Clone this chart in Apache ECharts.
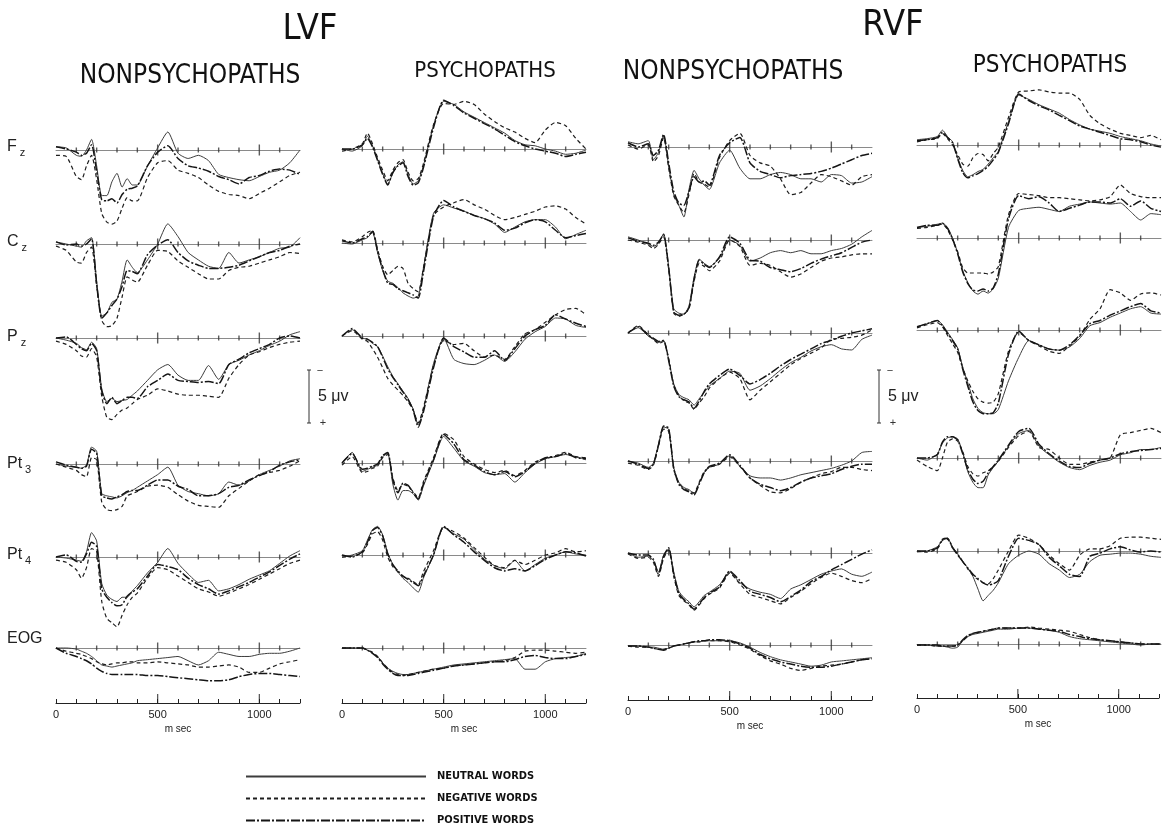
<!DOCTYPE html>
<html><head><meta charset="utf-8">
<script src="https://cdn.jsdelivr.net/npm/echarts@6/dist/echarts.min.js"></script>
<style>html,body{margin:0;background:#fff}#c{width:1162px;height:829px}</style>
</head><body><div id="c"></div><script>
// time points (ms) at which values were read
const T = [0,50,100,125,150,175,200,225,250,275,300,325,350,375,400,450,500,550,600,650,700,750,800,850,900,950,1000,1050,1100,1150,1200];
const BASE_TICKS = [100,200,300,400,600,700,800,900,1100];
const MAJOR_TICKS = [500,1000];
const AXIS_TICK_LABELS = [0,500,1000];
const COLS = ['LN','LP','RN','RP'];
const COL_TITLES = ['NONPSYCHOPATHS','PSYCHOPATHS','NONPSYCHOPATHS','PSYCHOPATHS'];
const FIELD_TITLES = ['LVF','RVF'];
const ROWS = ['Fz','Cz','Pz','Pt3','Pt4','EOG'];
const ROW_MAIN = ['F','C','P','Pt','Pt','EOG'];
const ROW_SUB = ['z','z','z','3','4',''];
const CONDS = ['Neu','Neg','Pos'];
const CONDITION_NAMES = ['NEUTRAL WORDS','NEGATIVE WORDS','POSITIVE WORDS'];
const SCALE_UV = 5;

// values in microvolts (negative plotted upward)
const LN_Fz_Neu = [-0.3,-0.2,0.5,0.6,0.0,-1.0,1.5,4.3,4.3,3.0,2.2,3.5,2.7,3.3,3.3,1.5,-0.2,-1.7,0.3,0.8,0.5,1.0,2.3,2.6,2.8,2.9,2.5,2.1,1.9,1.2,0.0];
const LN_Fz_Neg = [0.5,0.6,2.5,2.8,1.5,0.5,2.8,6.0,6.8,7.0,6.7,5.5,4.5,4.8,4.8,2.6,1.2,1.0,1.9,2.2,2.6,3.3,3.9,4.2,4.3,4.6,4.1,3.6,3.0,2.4,2.1];
const LN_Fz_Pos = [-0.3,-0.1,0.2,0.5,0.3,-0.5,2.0,4.7,4.8,4.6,5.0,4.2,3.7,3.6,3.4,1.5,0.2,-0.4,0.8,1.5,1.7,2.0,2.5,2.8,3.2,2.6,2.4,2.0,1.8,1.9,2.3];
const LN_Cz_Neu = [-0.2,0.0,0.2,0.3,-0.3,-0.6,3.5,6.8,6.5,5.5,5.2,3.5,1.5,2.2,2.7,1.5,0.0,-1.9,-0.7,0.8,1.5,2.1,2.3,0.8,1.8,1.5,1.2,0.8,0.4,0.3,-0.6];
const LN_Cz_Neg = [0.2,0.6,1.7,1.8,0.8,0.3,4.0,7.2,7.8,7.7,7.0,5.0,3.1,3.4,3.6,2.0,0.6,0.7,1.6,2.2,2.8,3.3,3.3,2.5,2.2,2.1,1.8,1.5,1.2,0.8,0.9];
const LN_Cz_Pos = [-0.2,0.1,0.0,0.2,0.0,-0.5,3.8,7.0,6.5,5.8,5.2,4.0,2.5,2.6,2.8,1.0,0.1,-0.4,0.8,1.6,2.0,2.3,2.3,2.2,2.0,1.6,1.2,0.8,0.6,0.2,0.0];
const LN_Pz_Neu = [0.0,0.2,0.5,0.9,1.1,0.4,1.0,4.8,6.0,5.7,6.0,5.9,5.8,5.4,5.0,4.0,3.0,2.5,3.5,4.0,4.0,2.6,3.9,2.5,2.1,1.6,1.2,0.7,0.3,-0.3,-0.6];
const LN_Pz_Neg = [0.3,0.6,1.2,1.7,1.8,1.0,1.8,5.5,7.5,7.7,7.2,6.8,6.6,6.2,5.8,5.4,4.8,5.0,5.3,5.4,5.4,5.5,5.6,3.8,2.5,1.6,1.3,0.9,0.6,0.4,0.3];
const LN_Pz_Pos = [0.0,-0.1,0.6,1.0,1.2,0.5,1.2,5.0,6.2,5.6,6.2,5.9,5.6,5.6,5.7,4.6,4.0,3.4,4.0,4.1,4.2,4.1,4.3,2.5,2.0,1.4,1.0,0.6,0.0,-0.2,0.0];
const LN_Pt3_Neu = [0.0,0.2,0.3,0.4,0.1,-1.6,-1.2,2.8,3.0,3.1,3.2,3.0,2.7,2.5,2.2,1.6,1.0,0.3,2.0,2.6,2.8,3.0,2.8,1.7,2.0,1.6,1.0,0.6,0.2,-0.3,-0.5];
const LN_Pt3_Neg = [0.0,0.3,0.6,1.0,1.2,-0.6,-0.4,3.6,4.3,4.4,4.3,4.0,3.0,2.8,2.6,2.1,2.0,2.2,2.9,3.5,3.9,4.0,4.1,3.0,2.3,1.6,1.0,0.8,0.6,0.2,-0.3];
const LN_Pt3_Pos = [-0.2,0.1,0.3,0.4,0.2,-1.4,-1.0,3.0,3.2,3.3,3.1,2.9,2.6,2.5,2.5,2.0,1.5,1.5,2.1,2.4,3.0,3.0,2.8,2.2,2.0,1.5,1.1,0.7,0.1,-0.2,-0.4];
const LN_Pt4_Neu = [0.0,0.1,0.3,0.4,-0.5,-2.3,-1.5,2.5,3.6,4.0,4.2,3.8,3.8,3.2,2.7,1.5,0.5,-0.8,0.6,1.6,2.4,2.2,3.2,3.0,2.6,2.1,1.7,1.3,0.6,-0.1,-0.6];
const LN_Pt4_Neg = [0.3,0.5,1.2,2.0,1.0,-0.8,-0.5,4.2,5.8,6.2,6.6,5.5,4.5,3.8,3.4,2.0,1.0,1.2,1.8,2.4,3.0,3.3,3.7,3.4,3.0,2.6,2.1,1.6,1.1,0.6,0.3];
const LN_Pt4_Pos = [0.0,-0.2,0.4,0.5,-0.3,-1.4,-1.0,3.0,3.8,4.3,4.6,4.5,3.7,3.3,3.0,1.8,0.7,0.9,1.2,2.0,2.6,3.0,3.5,3.2,2.8,2.4,1.9,1.4,0.8,0.2,-0.3];
const LN_EOG_Neu = [0.0,0.0,0.1,0.3,0.5,0.8,1.2,1.6,1.7,1.8,1.7,1.6,1.5,1.4,1.2,1.1,1.0,0.9,0.8,1.2,1.6,1.2,0.4,0.6,0.8,0.8,0.6,0.5,0.5,0.3,0.0];
const LN_EOG_Neg = [0.0,0.3,0.5,0.6,0.8,1.0,1.3,1.5,1.6,1.5,1.4,1.4,1.3,1.3,1.4,1.4,1.3,1.4,1.5,1.6,1.8,1.8,1.7,1.6,1.8,2.3,2.3,1.9,1.5,1.3,1.1];
const LN_EOG_Pos = [0.0,0.5,0.8,1.0,1.2,1.5,1.9,2.2,2.4,2.5,2.5,2.5,2.5,2.5,2.5,2.6,2.6,2.7,2.8,2.9,3.0,3.1,3.1,3.0,2.7,2.5,2.4,2.4,2.5,2.6,2.7];

const LP_Fz_Neu = [0.0,0.2,-0.3,-1.2,-0.3,1.0,2.3,3.3,2.3,1.5,1.2,2.4,3.3,3.0,1.6,-2.2,-4.5,-4.2,-3.5,-3.0,-2.5,-2.0,-1.5,-0.8,-0.4,-0.3,0.0,0.2,0.5,0.4,0.1];
const LP_Fz_Neg = [0.2,0.0,-0.5,-1.5,-0.5,0.8,2.0,3.0,2.0,1.3,1.0,2.2,3.0,2.8,1.4,-2.3,-4.3,-4.2,-4.5,-4.2,-3.3,-2.6,-2.0,-1.6,-1.0,-0.6,-1.8,-2.5,-2.2,-1.0,0.0];
const LP_Fz_Pos = [0.0,0.0,-0.4,-1.0,-0.2,1.1,2.4,3.4,2.2,1.6,1.3,2.6,3.4,3.2,1.8,-2.0,-4.6,-4.1,-3.4,-2.9,-2.4,-1.9,-1.3,-0.7,-0.3,0.0,0.2,0.4,0.7,0.5,0.3];
const LP_Cz_Neu = [0.0,0.1,-0.3,-0.5,-1.0,0.9,2.6,3.6,3.8,4.2,4.7,5.0,5.2,5.0,2.4,-2.8,-3.6,-3.3,-3.0,-2.6,-2.3,-1.8,-1.0,-1.5,-2.0,-2.2,-2.2,-1.5,-0.4,-0.8,-1.2];
const LP_Cz_Neg = [-0.3,-0.1,-0.6,-1.0,-1.2,0.6,2.2,3.0,2.6,2.2,2.4,3.8,4.3,4.6,2.4,-2.6,-3.4,-3.8,-4.1,-3.6,-3.2,-2.6,-2.2,-2.4,-2.7,-3.0,-3.4,-3.5,-3.2,-2.4,-1.8];
const LP_Cz_Pos = [-0.2,0.0,-0.4,-0.6,-1.1,0.8,2.5,3.8,3.9,4.3,4.5,4.7,4.9,5.2,2.8,-2.5,-4.0,-3.4,-3.0,-2.6,-2.3,-1.9,-1.2,-1.4,-1.9,-2.2,-2.0,-1.2,-0.5,-0.7,-0.9];
const LP_Pz_Neu = [0.0,-0.6,0.2,0.3,0.7,1.0,1.9,2.9,3.8,4.5,5.2,5.9,6.9,8.4,7.0,2.6,0.2,2.2,2.6,2.7,2.3,1.8,2.4,1.5,0.3,-0.4,-0.9,-1.7,-1.6,-1.0,-0.8];
const LP_Pz_Neg = [0.0,-0.5,0.3,0.5,1.2,2.0,3.0,4.0,4.6,5.1,5.6,6.2,7.0,8.2,6.8,2.8,0.4,0.8,0.7,1.4,2.0,1.8,2.2,1.0,-0.2,-0.6,-1.3,-2.0,-2.5,-2.6,-2.0];
const LP_Pz_Pos = [0.0,-0.7,0.2,0.3,0.6,1.0,2.0,3.1,3.9,4.6,5.3,6.0,7.0,8.6,7.2,3.0,0.2,1.0,1.5,2.0,2.0,1.4,2.3,1.2,0.0,-0.6,-1.0,-2.0,-1.6,-1.2,-0.9];
const LP_Pt3_Neu = [0.0,-1.0,0.8,0.6,0.4,0.2,-0.6,-0.9,2.0,3.5,2.6,2.6,2.9,3.5,2.2,-0.2,-2.5,-1.4,-0.2,0.3,0.9,1.1,1.0,1.8,0.9,0.1,-0.4,-0.6,-0.8,-0.6,-0.3];
const LP_Pt3_Neg = [0.2,-0.6,0.9,0.8,0.5,0.3,-0.5,-0.8,1.4,2.6,2.0,2.2,2.7,3.3,1.8,-0.5,-2.8,-2.2,-0.6,0.1,0.6,0.9,0.7,1.2,0.7,-0.1,-0.4,-0.7,-1.0,-0.6,-0.5];
const LP_Pt3_Pos = [0.0,-0.9,0.6,0.5,0.3,0.1,-0.7,-1.0,1.6,2.8,1.9,2.1,2.8,3.4,2.0,-0.3,-2.7,-1.8,-0.3,0.2,0.8,1.1,0.8,1.3,0.8,0.0,-0.5,-0.6,-0.9,-0.5,-0.4];
const LP_Pt4_Neu = [0.2,0.0,-0.4,-1.4,-2.4,-2.7,-1.9,-0.2,0.9,1.6,2.2,2.6,3.1,3.5,2.2,0.0,-2.6,-2.0,-1.5,-0.5,0.4,1.0,1.3,0.5,1.5,0.9,0.3,0.0,-0.3,-0.1,0.0];
const LP_Pt4_Neg = [0.2,0.1,-0.2,-1.0,-2.0,-2.2,-1.4,0.2,1.1,1.6,2.0,2.2,2.5,2.8,1.6,-0.4,-2.6,-2.2,-1.6,-0.7,0.2,1.0,1.2,0.5,0.9,0.5,0.0,-0.2,-0.6,-0.3,-0.4];
const LP_Pt4_Pos = [0.0,0.2,-0.3,-1.2,-2.3,-2.6,-1.8,-0.1,0.9,1.5,2.0,2.3,2.6,2.9,2.0,0.0,-2.7,-1.9,-1.2,-0.3,0.5,1.2,1.5,1.3,1.5,1.0,0.4,0.0,-0.3,-0.2,0.1];
const LP_EOG_Neu = [0.0,0.0,0.0,0.2,0.5,0.8,1.4,1.9,2.2,2.4,2.5,2.5,2.4,2.3,2.2,2.0,1.8,1.6,1.5,1.4,1.3,1.2,1.1,1.0,2.0,2.0,1.3,1.0,0.9,0.8,0.5];
const LP_EOG_Neg = [0.0,0.0,0.0,0.2,0.4,0.8,1.4,1.9,2.3,2.5,2.6,2.5,2.4,2.3,2.2,2.0,1.9,1.7,1.6,1.5,1.4,1.3,1.2,0.9,0.3,0.2,0.2,0.3,0.4,0.5,0.4];
const LP_EOG_Pos = [0.0,0.0,0.0,0.2,0.5,0.9,1.5,2.0,2.4,2.6,2.6,2.6,2.5,2.4,2.3,2.1,1.9,1.7,1.6,1.5,1.4,1.3,1.3,1.1,0.8,0.7,0.9,1.0,1.0,0.8,0.6];

const RN_Fz_Neu = [-0.5,-0.3,-0.6,1.2,0.5,-1.1,1.8,4.5,5.5,6.6,4.0,2.2,3.0,3.6,4.0,1.5,0.3,2.0,3.0,3.0,2.6,2.4,2.6,3.0,3.0,3.3,2.6,2.7,3.4,3.3,2.8];
const RN_Fz_Neg = [-0.2,0.2,-0.2,1.4,0.8,-0.9,2.0,4.6,5.5,6.2,4.5,2.5,3.3,3.5,3.8,1.0,-0.6,-1.3,0.8,1.5,1.8,3.0,4.5,4.3,3.4,2.6,2.8,3.2,3.6,2.8,2.6];
const RN_Fz_Pos = [-0.4,0.0,-0.3,0.8,0.3,-1.2,1.5,4.2,5.3,5.5,4.2,2.8,3.3,3.2,3.6,0.8,-0.4,-0.9,1.5,2.3,2.6,2.9,2.7,2.6,2.5,2.3,2.0,1.6,1.2,0.8,0.6];
const RN_Cz_Neu = [-0.3,0.0,0.4,0.6,0.3,-0.6,2.5,6.5,6.9,7.0,6.2,3.5,1.8,2.2,2.5,1.7,0.0,0.5,2.0,1.7,1.2,1.0,1.2,1.0,1.3,1.3,1.0,0.8,0.4,-0.3,-0.9];
const RN_Cz_Neg = [0.0,0.2,0.5,0.8,0.4,-0.3,2.8,6.9,7.2,7.0,6.5,3.9,2.2,2.5,2.9,2.0,0.0,0.6,2.4,2.2,2.4,3.0,3.5,3.2,2.6,2.0,1.7,1.6,1.4,1.3,1.3];
const RN_Cz_Pos = [-0.2,0.1,0.3,0.5,0.2,-0.5,2.6,6.8,7.1,7.0,6.4,3.7,1.9,2.3,2.6,1.6,-0.3,0.3,1.9,2.0,2.6,2.8,3.0,2.7,2.2,1.8,1.5,1.2,0.7,0.2,0.0];
const RN_Pz_Neu = [0.0,-0.5,0.3,0.6,0.9,0.7,2.5,4.8,5.8,6.1,6.3,6.8,6.2,5.6,5.0,4.3,3.6,3.8,5.4,5.0,4.3,3.5,2.8,2.3,1.7,1.3,1.1,1.5,1.6,0.6,0.2];
const RN_Pz_Neg = [0.0,-0.7,0.2,0.6,1.0,0.8,2.4,4.9,5.9,6.4,6.6,7.2,6.6,6.0,5.2,4.3,3.7,4.3,6.3,5.4,4.6,3.8,3.0,2.4,1.9,1.4,0.6,0.5,0.4,0.2,-0.3];
const RN_Pz_Pos = [0.0,-0.6,0.2,0.5,0.8,0.7,2.6,5.0,6.0,6.3,6.5,7.1,6.4,5.5,4.8,4.0,3.4,4.0,4.8,4.4,3.8,3.1,2.5,2.0,1.5,1.0,0.7,0.3,0.0,-0.2,-0.4];
const RN_Pt3_Neu = [0.0,0.2,0.6,0.2,-1.6,-3.2,-3.0,0.6,2.0,2.5,2.7,3.1,2.1,1.1,0.6,0.3,-0.5,0.5,1.4,1.6,1.6,1.8,1.6,1.3,1.1,0.9,0.7,0.4,0.0,-0.8,-0.9];
const RN_Pt3_Neg = [0.2,0.4,0.8,0.4,-1.4,-3.0,-2.8,0.8,2.1,2.6,2.8,3.0,2.0,1.0,0.6,0.3,-0.4,0.5,1.6,2.3,2.9,3.0,2.6,2.0,1.6,1.2,1.0,0.6,0.6,0.8,0.9];
const RN_Pt3_Pos = [0.0,0.3,0.7,0.3,-1.5,-3.3,-3.1,0.7,2.2,2.7,2.9,3.2,2.2,1.1,0.5,0.2,-0.6,0.4,1.6,2.2,2.5,2.8,2.5,2.0,1.6,1.4,1.2,0.8,0.5,0.3,0.3];
const RN_Pt4_Neu = [0.0,0.4,0.3,0.7,1.8,0.2,-0.4,1.8,3.6,4.2,4.6,5.1,4.6,4.0,3.7,3.0,1.8,2.8,3.4,3.7,3.9,4.3,3.4,3.0,2.5,2.0,1.7,1.5,2.0,2.2,1.8];
const RN_Pt4_Neg = [0.1,0.5,0.4,0.9,2.2,0.5,-0.3,2.2,4.0,4.5,4.9,5.4,4.9,4.3,3.9,3.3,1.9,2.9,3.9,4.2,4.5,4.8,4.2,3.6,2.9,2.3,1.9,2.2,2.6,2.8,2.4];
const RN_Pt4_Pos = [0.0,0.2,0.2,0.6,2.0,0.3,-0.5,2.0,3.8,4.4,4.8,5.3,4.8,4.2,3.8,3.2,1.7,2.6,3.6,3.9,4.2,4.6,4.1,3.5,2.7,2.2,1.6,1.1,0.6,0.1,-0.3];
const RN_EOG_Neu = [0.1,0.1,0.2,0.2,0.3,0.4,0.3,0.1,0.0,-0.1,-0.2,-0.3,-0.3,-0.4,-0.4,-0.4,-0.4,-0.2,0.2,0.7,1.1,1.4,1.6,1.8,2.0,1.9,1.6,1.5,1.4,1.3,1.2];
const RN_EOG_Neg = [0.1,0.2,0.2,0.3,0.4,0.4,0.3,0.1,0.0,-0.1,-0.2,-0.3,-0.3,-0.4,-0.4,-0.4,-0.3,0.0,0.4,1.0,1.5,1.8,2.2,2.4,2.2,2.0,1.9,1.8,1.6,1.4,1.3];
const RN_EOG_Pos = [0.1,0.1,0.2,0.3,0.4,0.5,0.3,0.1,0.0,-0.1,-0.2,-0.3,-0.4,-0.4,-0.5,-0.5,-0.4,-0.1,0.3,0.9,1.3,1.6,1.8,2.0,2.1,2.1,2.0,1.8,1.6,1.4,1.3];

const RP_Fz_Neu = [-0.5,-0.6,-0.8,-1.4,-0.8,-0.3,1.2,2.4,3.0,2.8,2.5,2.3,1.8,1.2,0.6,-2.2,-4.7,-4.3,-3.8,-3.4,-3.0,-2.4,-1.9,-1.5,-1.3,-1.1,-0.8,-0.6,-0.4,-0.1,0.1];
const RP_Fz_Neg = [-0.3,-0.5,-0.6,-1.1,-0.6,0.0,0.9,1.8,2.0,1.2,0.8,0.9,1.5,0.8,0.2,-2.6,-5.0,-5.1,-5.2,-5.0,-4.9,-4.9,-4.3,-2.8,-2.0,-1.5,-1.1,-0.9,-0.7,-0.9,-0.5];
const RP_Fz_Pos = [-0.4,-0.5,-0.7,-1.2,-0.7,-0.2,1.3,2.6,3.1,2.9,2.7,2.4,2.0,1.4,0.7,-2.0,-4.8,-4.2,-3.7,-3.3,-2.8,-2.3,-1.8,-1.5,-1.2,-0.9,-0.6,-0.5,-0.3,0.0,0.2];
const RP_Cz_Neu = [-1.0,-1.1,-1.3,-1.4,-1.0,0.0,1.4,3.1,4.2,5.0,5.3,5.0,5.2,4.8,3.8,-1.0,-2.6,-2.8,-2.9,-2.7,-2.5,-3.0,-3.2,-3.4,-3.3,-3.2,-3.3,-2.5,-1.7,-2.3,-2.2];
const RP_Cz_Neg = [-0.9,-1.0,-1.2,-1.3,-0.8,0.2,1.3,2.8,3.3,3.3,3.3,3.3,3.4,3.2,2.7,-2.2,-4.2,-4.1,-4.0,-3.8,-3.8,-3.7,-3.6,-3.5,-3.6,-3.9,-5.0,-4.2,-3.9,-3.8,-3.8];
const RP_Cz_Pos = [-1.0,-1.2,-1.2,-1.4,-0.9,0.1,1.5,3.2,4.3,4.9,5.0,4.8,5.0,4.7,3.4,-1.8,-4.0,-3.7,-3.9,-3.3,-2.5,-2.8,-3.1,-3.4,-3.4,-3.3,-3.7,-3.0,-3.5,-2.8,-2.5];
const RP_Pz_Neu = [-0.3,-0.6,-0.9,-0.5,0.2,0.9,1.7,3.5,5.0,6.5,7.4,7.8,7.9,7.9,7.5,4.8,2.6,1.0,1.4,1.8,1.9,1.6,0.8,-0.4,-0.7,-1.2,-1.6,-2.0,-2.2,-1.6,-1.5];
const RP_Pz_Neg = [-0.2,-0.5,-0.7,-0.3,0.5,1.3,2.1,3.6,4.8,5.8,6.5,6.8,6.9,6.8,6.0,2.0,0.2,1.0,1.5,2.0,2.2,1.5,0.6,-1.0,-2.0,-3.8,-3.5,-2.8,-3.4,-3.5,-3.3];
const RP_Pz_Pos = [-0.3,-0.6,-0.9,-0.4,0.3,1.0,1.8,3.7,5.3,6.8,7.6,7.9,7.9,7.8,6.9,2.3,0.1,1.0,1.4,1.8,1.9,1.4,0.5,-0.6,-0.9,-1.4,-1.8,-2.2,-2.5,-1.8,-1.6];
const RP_Pt3_Neu = [0.0,0.2,-0.4,-1.4,-1.9,-2.0,-1.8,-0.5,1.3,2.3,2.8,2.8,1.6,0.9,0.3,-1.1,-2.3,-2.6,-1.1,-0.3,0.4,0.9,1.1,0.7,0.4,0.2,-0.3,-0.5,-0.8,-0.8,-1.0];
const RP_Pt3_Neg = [0.2,0.8,1.2,0.0,-1.5,-1.8,-1.6,-0.6,0.8,1.5,1.7,1.4,1.2,0.8,0.3,-1.0,-2.1,-2.5,-1.0,-0.8,0.0,0.6,0.6,0.4,0.2,0.0,-2.2,-2.4,-2.6,-2.8,-2.4];
const RP_Pt3_Pos = [0.0,0.0,-0.3,-1.5,-2.0,-2.0,-1.7,-0.4,1.1,2.0,2.4,2.2,1.4,0.8,0.2,-1.2,-2.5,-2.8,-1.3,-0.4,0.3,0.8,0.9,0.5,0.2,0.0,-0.4,-0.6,-0.7,-0.8,-0.9];
const RP_Pt4_Neu = [0.1,0.0,-0.4,-1.0,-1.2,-0.4,0.3,1.0,1.6,2.4,3.6,4.7,4.2,3.7,3.0,1.2,0.4,0.0,0.3,1.2,1.8,2.5,2.2,1.0,0.4,0.3,0.2,0.2,0.3,0.5,0.6];
const RP_Pt4_Neg = [0.0,0.1,-0.2,-1.0,-1.1,-0.3,0.4,1.0,1.7,2.3,2.7,3.0,3.1,2.6,1.8,0.0,-1.5,-1.2,-0.6,0.4,1.2,1.8,0.4,-0.2,-0.2,-0.5,-1.2,-1.3,-1.3,-1.2,-1.1];
const RP_Pt4_Pos = [0.0,0.0,-0.3,-1.1,-1.2,-0.3,0.3,1.0,1.6,2.2,2.6,3.0,3.2,3.1,2.8,0.5,-1.2,-1.0,-0.6,0.6,1.4,2.2,2.4,0.5,0.2,-0.2,-0.4,-0.1,0.1,0.0,0.1];
const RP_EOG_Neu = [0.1,0.1,0.2,0.2,0.3,0.4,0.3,-0.3,-0.7,-0.9,-1.0,-1.1,-1.2,-1.3,-1.4,-1.4,-1.5,-1.5,-1.4,-1.3,-1.1,-0.7,-0.5,-0.4,-0.3,-0.2,-0.1,0.0,0.1,0.0,0.0];
const RP_EOG_Neg = [0.1,0.1,0.2,0.2,0.2,0.2,0.1,-0.3,-0.7,-1.0,-1.1,-1.2,-1.3,-1.4,-1.5,-1.5,-1.5,-1.6,-1.5,-1.4,-1.3,-1.2,-0.9,-0.6,-0.4,-0.3,-0.2,-0.1,0.0,0.0,0.0];
const RP_EOG_Pos = [0.1,0.1,0.1,0.2,0.2,0.2,0.1,-0.4,-0.8,-1.0,-1.1,-1.2,-1.3,-1.4,-1.5,-1.5,-1.5,-1.5,-1.4,-1.3,-1.2,-0.9,-0.7,-0.5,-0.4,-0.3,-0.2,-0.1,0.0,0.0,0.0];

const SERIES_DATA = {
  LN_Fz_Neu,LN_Fz_Neg,LN_Fz_Pos,LN_Cz_Neu,LN_Cz_Neg,LN_Cz_Pos,LN_Pz_Neu,LN_Pz_Neg,LN_Pz_Pos,
  LN_Pt3_Neu,LN_Pt3_Neg,LN_Pt3_Pos,LN_Pt4_Neu,LN_Pt4_Neg,LN_Pt4_Pos,LN_EOG_Neu,LN_EOG_Neg,LN_EOG_Pos,
  LP_Fz_Neu,LP_Fz_Neg,LP_Fz_Pos,LP_Cz_Neu,LP_Cz_Neg,LP_Cz_Pos,LP_Pz_Neu,LP_Pz_Neg,LP_Pz_Pos,
  LP_Pt3_Neu,LP_Pt3_Neg,LP_Pt3_Pos,LP_Pt4_Neu,LP_Pt4_Neg,LP_Pt4_Pos,LP_EOG_Neu,LP_EOG_Neg,LP_EOG_Pos,
  RN_Fz_Neu,RN_Fz_Neg,RN_Fz_Pos,RN_Cz_Neu,RN_Cz_Neg,RN_Cz_Pos,RN_Pz_Neu,RN_Pz_Neg,RN_Pz_Pos,
  RN_Pt3_Neu,RN_Pt3_Neg,RN_Pt3_Pos,RN_Pt4_Neu,RN_Pt4_Neg,RN_Pt4_Pos,RN_EOG_Neu,RN_EOG_Neg,RN_EOG_Pos,
  RP_Fz_Neu,RP_Fz_Neg,RP_Fz_Pos,RP_Cz_Neu,RP_Cz_Neg,RP_Cz_Pos,RP_Pz_Neu,RP_Pz_Neg,RP_Pz_Pos,
  RP_Pt3_Neu,RP_Pt3_Neg,RP_Pt3_Pos,RP_Pt4_Neu,RP_Pt4_Neg,RP_Pt4_Pos,RP_EOG_Neu,RP_EOG_Neg,RP_EOG_Pos
};
const bad = Object.keys(SERIES_DATA).filter(k => SERIES_DATA[k].length !== T.length);
if (bad.length) throw new Error('length mismatch: ' + bad.join(','));

// ---------- layout ----------
const FONT = "'Liberation Sans', Arial, Helvetica, sans-serif";
const NARROW = "'Liberation Sans Narrow', 'DejaVu Sans Condensed', 'Liberation Sans', sans-serif";
const COL_LEFT = [56, 342, 628, 917];
const PANEL_W = 244;
const BASELINES = [[150,244,338,464,557,648],[149,243,336,463,555,648],[147,240,333,461,553,645],[145,238,330,458,551,644]];
const AXIS_Y = [703, 703, 700, 698];
const PX_PER_UV = 10.6, UV_MIN = -7, UV_MAX = 10;
const STYLES = {
  Neu: {color:'#3c3c3c', width:1, type:'solid'},
  Neg: {color:'#1e1e1e', width:1.2, type:[4,3]},
  Pos: {color:'#151515', width:1.5, type:[9,2,2,2]}
};

const grids=[], xAxes=[], yAxes=[], series=[];
COLS.forEach((col,c)=>{
  ROWS.forEach((row,r)=>{
    const idx = grids.length;
    const base = BASELINES[c][r];
    grids.push({left:COL_LEFT[c], width:PANEL_W, top: base + UV_MIN*PX_PER_UV, height:(UV_MAX-UV_MIN)*PX_PER_UV});
    xAxes.push({gridIndex:idx, type:'value', min:0, max:1200, axisLine:{onZero:true, lineStyle:{color:'#8a8a8a', width:1}},
      axisTick:{show:false}, axisLabel:{show:false}, splitLine:{show:false}});
    yAxes.push({gridIndex:idx, type:'value', min:UV_MIN, max:UV_MAX, inverse:true, show:false});
    series.push({type:'scatter', xAxisIndex:idx, yAxisIndex:idx, data:BASE_TICKS.map(t=>[t,0]), symbol:'rect',
      symbolSize:[1.4,5], itemStyle:{color:'#333'}, silent:true, z:1});
    series.push({type:'scatter', xAxisIndex:idx, yAxisIndex:idx, data:MAJOR_TICKS.map(t=>[t,0]), symbol:'rect',
      symbolSize:[1.4,11], itemStyle:{color:'#333'}, silent:true, z:1});
    CONDS.forEach((k,j)=>{
      const vals = SERIES_DATA[col+'_'+row+'_'+k];
      series.push({type:'line', name:CONDITION_NAMES[j], xAxisIndex:idx, yAxisIndex:idx,
        data:T.map((t,i)=>[t, vals[i]]), symbol:'none', smooth:0.2, silent:true,
        lineStyle:STYLES[k], itemStyle:{color:STYLES[k].color}, z:3+j});
    });
  });
});
// time axes
COLS.forEach((col,c)=>{
  const idx = grids.length;
  grids.push({left:COL_LEFT[c], width:PANEL_W, top:AXIS_Y[c]-20, height:20});
  xAxes.push({gridIndex:idx, type:'value', min:0, max:1200, interval:100, position:'bottom',
    axisLine:{onZero:false, lineStyle:{color:'#222', width:1}},
    axisTick:{inside:true, length:4, lineStyle:{color:'#222'}},
    axisLabel:{formatter:v=>AXIS_TICK_LABELS.includes(v)?String(v):'', fontSize:11, color:'#222', margin:6, fontFamily:FONT},
    splitLine:{show:false}, name:'m sec', nameLocation:'middle', nameGap:21,
    nameTextStyle:{fontSize:10, color:'#222', fontFamily:FONT}});
  yAxes.push({gridIndex:idx, type:'value', min:0, max:1, show:false});
  series.push({type:'scatter', xAxisIndex:idx, yAxisIndex:idx, data:MAJOR_TICKS.map(t=>[t,0]), symbol:'rect',
    symbolSize:[1.2,9], symbolOffset:[0,-4.5], itemStyle:{color:'#222'}, silent:true});
});

const graphic = [];
FIELD_TITLES.forEach((t,i)=>{
  graphic.push({type:'text', x:[310,893][i], y:[12,8][i], style:{text:t, fontSize:36, fontFamily:NARROW, fill:'#111', align:'center', verticalAlign:'top'}});
});
const SUB_X = [190, 485, 733, 1050], SUB_Y = [63, 60, 59, 54], SUB_SIZE = [26, 22, 26, 24];
COL_TITLES.forEach((t,c)=>{
  graphic.push({type:'text', x:SUB_X[c], y:SUB_Y[c], style:{text:t, fontSize:SUB_SIZE[c], fontFamily:NARROW, fill:'#111', align:'center', verticalAlign:'top'}});
});
const LABEL_Y = [145, 240, 335, 462, 553, 641];
ROWS.forEach((r,i)=>{
  graphic.push({type:'text', x:7, y:LABEL_Y[i]-10, style:{
    text: ROW_SUB[i] ? '{m|'+ROW_MAIN[i]+'}{s|'+ROW_SUB[i]+'}' : '{m|'+ROW_MAIN[i]+'}',
    rich:{m:{fontSize:16, fontFamily:FONT, fill:'#222'}, s:{fontSize:11, fontFamily:FONT, fill:'#222', padding:[12,0,0,3]}},
    fill:'#222'}});
});
// 5 microvolt calibration bars (length from the same px-per-µV scale as the panels)
[[309, 370],[879, 370]].forEach(([bx,by])=>{
  const h = SCALE_UV*PX_PER_UV;
  graphic.push({type:'line', shape:{x1:bx,y1:by,x2:bx,y2:by+h}, style:{stroke:'#333', lineWidth:1}});
  graphic.push({type:'line', shape:{x1:bx-2,y1:by,x2:bx+2,y2:by}, style:{stroke:'#333', lineWidth:1}});
  graphic.push({type:'line', shape:{x1:bx-2,y1:by+h,x2:bx+2,y2:by+h}, style:{stroke:'#333', lineWidth:1}});
  graphic.push({type:'text', x:bx+11, y:by+1, style:{text:'\u2212', fontSize:11, fontFamily:FONT, fill:'#333', align:'center', verticalAlign:'middle'}});
  graphic.push({type:'text', x:bx+14, y:by+h, style:{text:'+', fontSize:11, fontFamily:FONT, fill:'#333', align:'center', verticalAlign:'middle'}});
  graphic.push({type:'text', x:bx+9, y:by+h/2, style:{text:'5 \u03bcv', fontSize:16, fontFamily:FONT, fill:'#222', align:'left', verticalAlign:'middle'}});
});

const chart = echarts.init(document.getElementById('c'), null, {renderer:'canvas'});
chart.setOption({
  animation:false,
  backgroundColor:'#fff',
  grid:grids, xAxis:xAxes, yAxis:yAxes, series:series, graphic:graphic,
  legend:{data:CONDITION_NAMES, orient:'vertical', left:245, top:771, itemWidth:180, itemHeight:12, itemGap:11,
    padding:0, selectedMode:false, itemStyle:{opacity:0},
    textStyle:{fontSize:11, fontWeight:'bold', color:'#111', fontFamily:NARROW, padding:[0,0,0,6]}}
});
</script></body></html>
